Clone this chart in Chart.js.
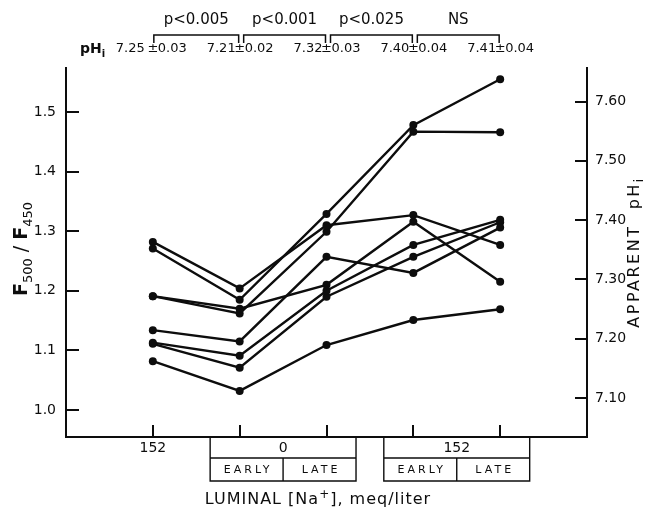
<!DOCTYPE html>
<html><head><meta charset="utf-8">
<script src="https://cdn.jsdelivr.net/npm/chart.js@4/dist/chart.umd.min.js"></script>
<style>html,body{margin:0;padding:0;background:#fff}#wrap{width:650px;height:511px}</style>
</head><body><div id="wrap"><canvas id="c" width="650" height="511"></canvas></div>
<script>
// category positions: 152 (control), 0 early, 0 late, 152 early, 152 late
const categories = [0, 1, 2, 3, 4];
const groupLabels = ['152', '0', '152'];
const phaseLabels = ['EARLY', 'LATE'];
// F500/F450 ratio for each tubule
const tubule1 = [1.282, 1.204, 1.310, 1.327, 1.277];
const tubule2 = [1.271, 1.185, 1.329, 1.478, 1.555];
const tubule3 = [1.191, 1.170, 1.210, 1.316, 1.215];
const tubule4 = [1.191, 1.162, 1.299, 1.467, 1.466];
const tubule5 = [1.134, 1.115, 1.257, 1.230, 1.306];
const tubule6 = [1.113, 1.091, 1.200, 1.277, 1.319];
const tubule7 = [1.111, 1.071, 1.190, 1.257, 1.315];
const tubule8 = [1.082, 1.032, 1.109, 1.151, 1.169];
const leftTicks = [1.0, 1.1, 1.2, 1.3, 1.4, 1.5];
const rightTicks = [7.10, 7.20, 7.30, 7.40, 7.50, 7.60];
const pHiMeans = ['7.25', '7.21', '7.32', '7.40', '7.41'];
const pHiSD = ['0.03', '0.02', '0.03', '0.04', '0.04'];
const pLabels = ['p<0.005', 'p<0.001', 'p<0.025', 'NS'];

const allSeries = [tubule1, tubule2, tubule3, tubule4, tubule5, tubule6, tubule7, tubule8];
const FONT = '"DejaVu Sans", sans-serif';
const INK = '#0d0d0d';

const datasets = allSeries.map(s => ({
  data: s.map((v, i) => ({x: categories[i], y: v})),
  showLine: true,
  borderColor: INK,
  backgroundColor: INK,
  borderWidth: 2.4,
  pointRadius: 4,
  pointBackgroundColor: INK,
  pointBorderWidth: 0,
  yAxisID: 'y'
}));

function subText(ctx, parts, x, y, align, spacing) {
  // parts: [text, size, dy, weight]
  ctx.letterSpacing = (spacing || 0) + 'px';
  let total = 0;
  parts.forEach(p => { ctx.font = p[3] + ' ' + p[1] + 'px ' + FONT; total += ctx.measureText(p[0]).width; });
  let cx = align === 'center' ? x - total / 2 : x;
  parts.forEach(p => {
    ctx.font = p[3] + ' ' + p[1] + 'px ' + FONT;
    ctx.textAlign = 'left';
    ctx.fillText(p[0], cx, y + p[2]);
    cx += ctx.measureText(p[0]).width;
  });
  ctx.letterSpacing = '0px';
}

const decor = {
  id: 'decor',
  afterDraw(chart) {
    const ctx = chart.ctx;
    const xs = chart.scales.x, ys = chart.scales.y, y2 = chart.scales.y2;
    const a = chart.chartArea;
    ctx.save();
    ctx.strokeStyle = INK; ctx.fillStyle = INK; ctx.lineWidth = 2;
    // inward tick marks
    ctx.beginPath();
    leftTicks.forEach(v => { const p = Math.round(ys.getPixelForValue(v)); ctx.moveTo(a.left, p); ctx.lineTo(a.left + 13, p); });
    rightTicks.forEach(v => { const p = Math.round(y2.getPixelForValue(v)); ctx.moveTo(a.right - 12, p); ctx.lineTo(a.right, p); });
    categories.forEach(c => { const p = Math.round(xs.getPixelForValue(c)); ctx.moveTo(p, a.bottom); ctx.lineTo(p, a.bottom - 12); });
    ctx.stroke();

    // bottom labels
    ctx.textBaseline = 'middle';
    ctx.font = '14px ' + FONT; ctx.textAlign = 'center';
    ctx.fillText(groupLabels[0], xs.getPixelForValue(categories[0]), a.bottom + 11);
    ctx.lineWidth = 1.4;
    const boxes = [[0.66, 2.34, 1.5, groupLabels[1]], [2.66, 4.34, 3.5, groupLabels[2]]];
    boxes.forEach(b => {
      const l = xs.getPixelForValue(b[0]), r = xs.getPixelForValue(b[1]), m = xs.getPixelForValue(b[2]);
      const t = a.bottom, mid = a.bottom + 21, bot = a.bottom + 44;
      ctx.beginPath();
      ctx.moveTo(l, t); ctx.lineTo(l, bot); ctx.lineTo(r, bot); ctx.lineTo(r, t);
      ctx.moveTo(l, mid); ctx.lineTo(r, mid);
      ctx.moveTo(m, mid); ctx.lineTo(m, bot);
      ctx.stroke();
      ctx.font = '14px ' + FONT; ctx.textAlign = 'center';
      ctx.fillText(b[3], (l + r) / 2, t + 11);
      ctx.font = '11px ' + FONT;
      ctx.letterSpacing = '3px';
      ctx.fillText(phaseLabels[0], (l + m) / 2 + 1.5, mid + 12);
      ctx.fillText(phaseLabels[1], (m + r) / 2 + 1.5, mid + 12);
      ctx.letterSpacing = '0px';
    });
    ctx.textBaseline = 'alphabetic';
    subText(ctx, [['LUMINAL [Na', 16, 0, ''], ['+', 12, -6, ''], ['], meq/liter', 16, 0, '']], 318, 504, 'center', 1);

    // left title
    ctx.save();
    ctx.translate(27, 249); ctx.rotate(-Math.PI / 2);
    subText(ctx, [['F', 19, 0, 'bold'], ['500', 13, 5, ''], [' / ', 19, 0, ''], ['F', 19, 0, 'bold'], ['450', 13, 5, '']], 0, 0, 'center');
    ctx.restore();
    // right title
    ctx.save();
    ctx.translate(639, 252); ctx.rotate(-Math.PI / 2);
    subText(ctx, [['APPARENT  pH', 16, 0, ''], ['i', 12, 4, '']], 0, 0, 'center', 2.5);
    ctx.restore();

    // top annotations
    ctx.lineWidth = 1.5;
    for (let i = 0; i < 4; i++) {
      const l = xs.getPixelForValue(categories[i]) + (i === 0 ? 1 : 4);
      const r = xs.getPixelForValue(categories[i + 1]) - 1;
      ctx.beginPath();
      ctx.moveTo(l, 43); ctx.lineTo(l, 35); ctx.lineTo(r, 35); ctx.lineTo(r, 43);
      ctx.stroke();
      ctx.font = '15px ' + FONT; ctx.textAlign = 'center'; ctx.textBaseline = 'middle';
      ctx.fillText(pLabels[i], (l + r) / 2, 20);
    }
    ctx.textBaseline = 'middle';
    subText(ctx, [['pH', 14, 0, 'bold'], ['i', 10, 5, 'bold']], 80, 49, 'left');
    categories.forEach((c, i) => {
      const p = xs.getPixelForValue(c);
      ctx.font = '13px ' + FONT;
      ctx.textAlign = 'center'; ctx.fillText('\u00b1', p, 49);
      ctx.textAlign = 'right'; ctx.fillText(pHiMeans[i] + (i === 0 ? ' ' : ''), p - 4, 49);
      ctx.textAlign = 'left'; ctx.fillText(pHiSD[i], p + 5, 49);
    });
    ctx.restore();
  }
};

new Chart(document.getElementById('c'), {
  type: 'scatter',
  data: { datasets },
  options: {
    responsive: false,
    animation: false,
    devicePixelRatio: 1,
    layout: { padding: { top: 68, left: 0, right: 0, bottom: 0 } },
    plugins: { legend: { display: false }, tooltip: { enabled: false } },
    scales: {
      x: {
        type: 'linear', position: 'bottom', min: -1, max: 5,
        grid: { display: false, drawTicks: false },
        border: { display: true, color: INK, width: 2 },
        ticks: { display: false },
        afterFit(s) { s.height = 74; }
      },
      y: {
        type: 'linear', position: 'left', min: 0.9547, max: 1.5738,
        grid: { display: false, drawTicks: false },
        border: { display: true, color: INK, width: 2 },
        afterBuildTicks(s) { s.ticks = leftTicks.map(v => ({ value: v })); },
        ticks: { color: INK, padding: 10, font: { family: FONT, size: 14 }, callback: v => v.toFixed(1) },
        afterFit(s) { s.width = 66; }
      },
      y2: {
        type: 'linear', position: 'right', min: 7.0344, max: 7.6565,
        grid: { display: false, drawTicks: false },
        border: { display: true, color: INK, width: 2 },
        afterBuildTicks(s) { s.ticks = rightTicks.map(v => ({ value: v })); },
        ticks: { color: INK, padding: 8, font: { family: FONT, size: 14 }, callback: v => v.toFixed(2) },
        afterFit(s) { s.width = 63; }
      }
    }
  },
  plugins: [decor]
});
</script>
</body></html>
